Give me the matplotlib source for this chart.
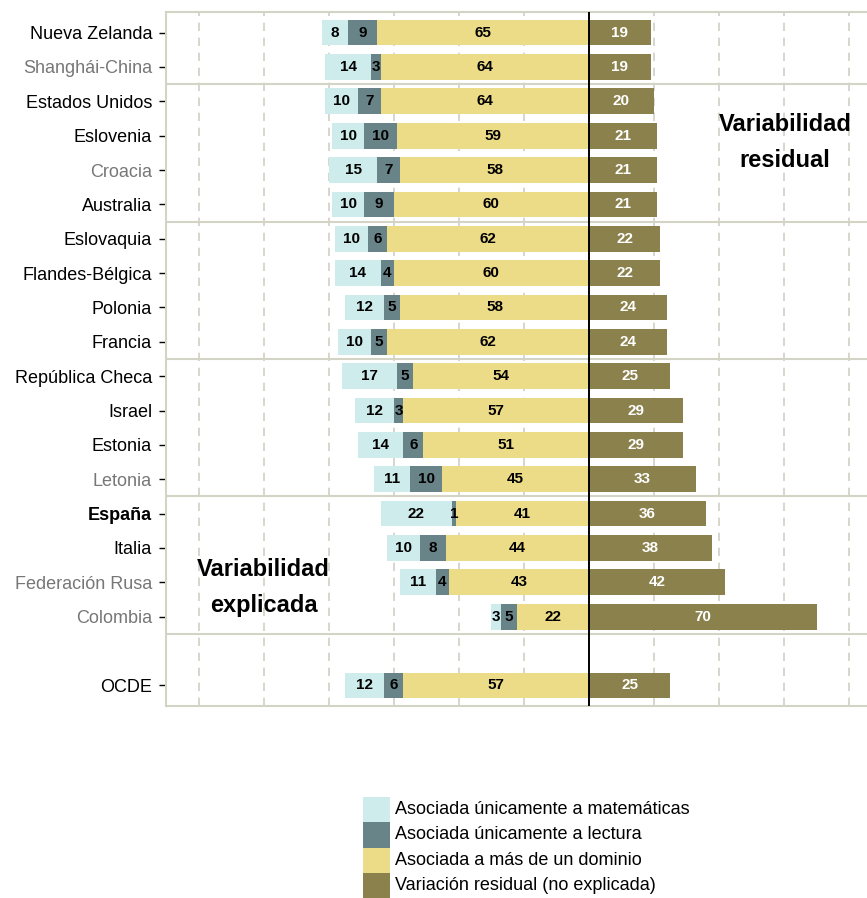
import matplotlib.pyplot as plt
from matplotlib.patches import Rectangle

plt.rcParams['font.family'] = ['Liberation Sans', 'DejaVu Sans']

# data
paises = ['Nueva Zelanda', 'Shanghái-China', 'Estados Unidos', 'Eslovenia', 'Croacia',
          'Australia', 'Eslovaquia', 'Flandes-Bélgica', 'Polonia', 'Francia',
          'República Checa', 'Israel', 'Estonia', 'Letonia', 'España', 'Italia',
          'Federación Rusa', 'Colombia', 'OCDE']
solo_mat = [8, 14, 10, 10, 15, 10, 10, 14, 12, 10, 17, 12, 14, 11, 22, 10, 11, 3, 12]
solo_lec = [9, 3, 7, 10, 7, 9, 6, 4, 5, 5, 5, 3, 6, 10, 1, 8, 4, 5, 6]
varios = [65, 64, 64, 59, 58, 60, 62, 60, 58, 62, 54, 57, 51, 45, 41, 44, 43, 22, 57]
residual = [19, 19, 20, 21, 21, 21, 22, 22, 24, 24, 25, 29, 29, 33, 36, 38, 42, 70, 25]
# partner countries drawn in grey
no_ocde = ['Shanghái-China', 'Croacia', 'Letonia', 'Federación Rusa', 'Colombia']

leyenda = ['Asociada únicamente a matemáticas', 'Asociada únicamente a lectura',
           'Asociada a más de un dominio', 'Variación residual (no explicada)']
colores = ['#cfecec', '#688489', '#eddc87', '#8b814c']

pos = list(range(len(paises) - 1)) + [len(paises)]  # gap before OCDE

W, H = 867, 898
fig = plt.figure(figsize=(W / 100, H / 100), dpi=100)
ax = fig.add_axes([166 / W, 1 - 706 / H, 1 - 166 / W, 694 / H])

ax.set_xlim(-130, 85.5)
ax.set_ylim(19.6, -0.6)

# dashed vertical grid
for gx in [-120, -100, -80, -60, -40, -20, 20, 40, 60, 80]:
    ax.axvline(gx, color='#cfcfc4', lw=1.2, ls=(0, (5, 4)), zorder=0)
# group separators
for sy in [1.5, 5.5, 9.5, 13.5, 17.5]:
    ax.axhline(sy, color='#d3d3c6', lw=1.5, zorder=0)

h = 0.75
for i, y in enumerate(pos):
    v = varios[i]
    l = solo_lec[i]
    m = solo_mat[i]
    r = residual[i]
    ax.barh(y, -v, height=h, color=colores[2], zorder=2)
    ax.barh(y, -l, left=-v, height=h, color=colores[1], zorder=2)
    ax.barh(y, -m, left=-v - l, height=h, color=colores[0], zorder=2)
    ax.barh(y, r, height=h, color=colores[3], zorder=2)
    kw = dict(ha='center', va='center', fontsize=11, fontweight='bold', zorder=3)
    ax.text(-v / 2, y, str(v), color='black', **kw)
    ax.text(-v - l / 2, y, str(l), color='black', **kw)
    ax.text(-v - l - m / 2, y, str(m), color='black', **kw)
    ax.text(r / 2, y, str(r), color='white', **kw)

ax.axvline(0, color='black', lw=1.4, zorder=4)

ax.text(60.3, 3.2, 'Variabilidad\nresidual', ha='center', va='center', fontsize=17,
        fontweight='bold', linespacing=1.75)
ax.text(-100, 16.15, 'Variabilidad\nexplicada', ha='center', va='center', fontsize=17,
        fontweight='bold', linespacing=1.75)

ax.set_yticks(pos)
ax.set_yticklabels(paises, fontsize=13)
for lab in ax.get_yticklabels():
    t = lab.get_text()
    if t in no_ocde:
        lab.set_color('#777777')
    if t == 'España':
        lab.set_fontweight('bold')
ax.tick_params(axis='y', length=5, width=1, color='black', pad=5)
ax.set_xticks([])

for s in ['top', 'bottom', 'left']:
    ax.spines[s].set_color('#d3d3c6')
    ax.spines[s].set_linewidth(1.5)
ax.spines['right'].set_visible(False)

# legend drawn by hand: stacked swatches with no gaps
top = 797
for k, (c, txt) in enumerate(zip(colores, leyenda)):
    y0 = top + k * 25.3
    fig.add_artist(Rectangle((363 / W, 1 - (y0 + 25.3) / H), 27 / W, 25.3 / H,
                             transform=fig.transFigure, facecolor=c, edgecolor='none'))
    fig.text(395 / W, 1 - (y0 + 12.6) / H, txt, fontsize=13, va='center', ha='left')

fig.savefig('out.png', dpi=100)
